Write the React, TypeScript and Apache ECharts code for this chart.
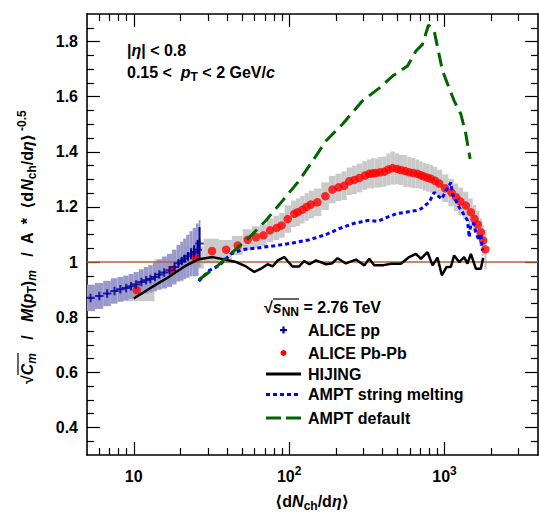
import React, { useEffect, useRef } from 'react';
import * as echarts from 'echarts';

const FONT = '"Liberation Sans", Arial, Helvetica, "DejaVu Sans", sans-serif';

// ---------------- data ----------------
const ppX = [5.27, 6.0, 6.74, 7.52, 8.2, 8.93, 9.6, 10.35, 11.2, 12.0, 12.8, 13.7, 14.6, 15.7, 17.0, 18.3, 19.4, 20.4, 21.2, 22.3, 23.4, 24.5, 25.8, 26.5];
const ppY = [0.870, 0.877, 0.886, 0.895, 0.901, 0.906, 0.912, 0.919, 0.928, 0.934, 0.939, 0.946, 0.955, 0.962, 0.970, 0.982, 0.996, 1.004, 1.012, 1.021, 1.030, 1.036, 1.045, 1.067];
const ppSys = [0.048, 0.047, 0.046, 0.046, 0.045, 0.045, 0.045, 0.045, 0.046, 0.048, 0.05, 0.052, 0.055, 0.058, 0.06, 0.063, 0.066, 0.07, 0.073, 0.078, 0.082, 0.088, 0.095, 0.085];
const ppStat = [0.003, 0.003, 0.003, 0.003, 0.003, 0.003, 0.003, 0.003, 0.003, 0.003, 0.003, 0.003, 0.004, 0.004, 0.005, 0.006, 0.008, 0.01, 0.012, 0.015, 0.02, 0.025, 0.035, 0.06];

const pbX = [10.45, 17.7, 24.9, 31.9, 39.3, 46.7, 54.1, 61.2, 68.3, 75.4, 83.2, 89.5, 97.9, 108, 113.6, 122, 129.6, 138, 152, 171, 190, 208, 226, 244, 263, 283, 308, 328, 345, 362, 385, 410, 435, 463, 495, 525, 560, 593, 630, 671, 705, 741, 780, 818, 870, 925, 1010, 1110, 1190, 1265, 1373, 1478, 1560, 1640, 1714, 1774, 1835];
const pbY = [0.898, 0.970, 1.016, 1.040, 1.045, 1.060, 1.081, 1.090, 1.097, 1.115, 1.124, 1.133, 1.156, 1.175, 1.181, 1.190, 1.200, 1.209, 1.217, 1.239, 1.263, 1.271, 1.277, 1.293, 1.298, 1.305, 1.314, 1.320, 1.322, 1.323, 1.326, 1.328, 1.336, 1.341, 1.338, 1.334, 1.330, 1.326, 1.323, 1.320, 1.315, 1.310, 1.306, 1.302, 1.295, 1.285, 1.268, 1.252, 1.235, 1.220, 1.205, 1.181, 1.157, 1.136, 1.108, 1.078, 1.046];
const pbSys = [0.04, 0.04, 0.04, 0.045, 0.035, 0.035, 0.038, 0.04, 0.04, 0.042, 0.044, 0.045, 0.05, 0.048, 0.05, 0.05, 0.05, 0.05, 0.05, 0.05, 0.05, 0.05, 0.052, 0.05, 0.052, 0.052, 0.052, 0.052, 0.055, 0.053, 0.055, 0.055, 0.058, 0.06, 0.056, 0.055, 0.058, 0.055, 0.055, 0.052, 0.05, 0.05, 0.05, 0.05, 0.05, 0.05, 0.05, 0.05, 0.05, 0.05, 0.05, 0.05, 0.05, 0.05, 0.05, 0.055, 0.07];

const hijingX = [10, 12.9, 16.6, 21.2, 25.8, 32.2, 38.3, 45.6, 52.8, 59.7, 65.9, 72.7, 78.3, 84.4, 93.2, 97.8, 105, 116, 125, 135, 149, 173, 190, 205, 232, 269, 305, 328, 353, 399, 452, 524, 593, 655, 705, 778, 838, 902, 962, 1030, 1099, 1154, 1244, 1339, 1406, 1479, 1592, 1714, 1774];
const hijingY = [0.868, 0.907, 0.944, 0.984, 1.009, 1.018, 1.009, 1.0, 0.984, 0.964, 0.976, 0.992, 0.984, 1.006, 1.018, 1.004, 0.984, 0.984, 1.004, 0.992, 1.006, 0.992, 0.996, 1.014, 0.995, 1.009, 0.988, 1.012, 0.988, 0.988, 0.994, 0.994, 1.018, 1.03, 1.012, 1.036, 0.988, 1.016, 0.952, 0.982, 0.982, 1.024, 1.0, 1.018, 0.994, 1.03, 0.976, 0.976, 1.016];

const amptSmX = [26.2, 27.8, 30.7, 35.6, 42.3, 50.2, 64.3, 82.4, 105, 135, 173, 210, 256, 320, 371, 487, 655, 705, 797, 859, 902, 962, 1021, 1099, 1125, 1183, 1244, 1306, 1406, 1443, 1479, 1553, 1592, 1671, 1714, 1755];
const amptSmY = [0.930, 0.946, 0.970, 0.988, 1.030, 1.045, 1.052, 1.060, 1.069, 1.081, 1.100, 1.121, 1.139, 1.151, 1.148, 1.175, 1.187, 1.193, 1.217, 1.253, 1.241, 1.229, 1.259, 1.289, 1.247, 1.223, 1.199, 1.181, 1.151, 1.090, 1.139, 1.139, 1.108, 1.078, 1.103, 1.042];

const amptDefX = [26.2, 33.9, 43.3, 55.5, 71.0, 90.8, 116, 142, 173, 221, 297, 380, 463, 578, 655, 722, 789, 859, 971, 1154, 1275, 1373, 1463];
const amptDefY = [0.936, 0.982, 1.036, 1.090, 1.151, 1.223, 1.295, 1.368, 1.440, 1.501, 1.585, 1.631, 1.675, 1.711, 1.766, 1.790, 1.860, 1.838, 1.694, 1.585, 1.537, 1.464, 1.374];

const refX = [5, 4000];
const refY = [1, 1];

const xMajorTicks = [10, 100, 1000];
const xMinorTicks = [6, 7, 8, 9, 20, 30, 40, 50, 60, 70, 80, 90, 200, 300, 400, 500, 600, 700, 800, 900, 2000, 3000];
const yMajorTicks = [0.4, 0.6, 0.8, 1.0, 1.2, 1.4, 1.6, 1.8];
const yMinorTicks = [0.35, 0.45, 0.5, 0.55, 0.65, 0.7, 0.75, 0.85, 0.9, 0.95, 1.05, 1.1, 1.15, 1.25, 1.3, 1.35, 1.45, 1.5, 1.55, 1.65, 1.7, 1.75, 1.85];

// ---------------- helpers ----------------
const pairs = (xs: number[], ys: number[]) => xs.map((x, i) => [x, ys[i]]);

function boxes(xs: number[], ys: number[], es: number[]) {
  const n = xs.length;
  return xs.map((x, i) => {
    const lo = i > 0 ? Math.sqrt(xs[i - 1] * x) : x / Math.sqrt(xs[1] / xs[0]);
    const hi = i < n - 1 ? Math.sqrt(xs[i + 1] * x) : x * Math.sqrt(xs[n - 1] / xs[n - 2]);
    return [x, ys[i], lo, hi, ys[i] - es[i], ys[i] + es[i]];
  });
}

const boxRender = (color: string) => (params: any, api: any) => {
  const a = api.coord([api.value(2), api.value(5)]);
  const b = api.coord([api.value(3), api.value(4)]);
  return {
    type: 'rect',
    shape: { x: a[0], y: a[1], width: b[0] - a[0], height: b[1] - a[1] },
    style: { fill: color },
  };
};

const B = { fontFamily: FONT, fontWeight: 'bold' as const, color: '#000' };
const rich = {
  b: { ...B, fontSize: 16, lineHeight: 22 },
  i: { ...B, fontSize: 16, lineHeight: 22, fontStyle: 'italic' as const },
  sub: { ...B, fontSize: 12, lineHeight: 12, verticalAlign: 'bottom' as const },
  subi: { ...B, fontSize: 12, lineHeight: 12, verticalAlign: 'bottom' as const, fontStyle: 'italic' as const },
  sup: { ...B, fontSize: 12, lineHeight: 12, verticalAlign: 'top' as const, padding: [0, 0, 0, 3] },
};

const frameLine = { show: true, onZero: false, lineStyle: { color: '#000', width: 1.6 } };

function xAxisDef(position: 'bottom' | 'top', major: boolean) {
  return {
    type: 'log',
    logBase: 10,
    min: 5,
    max: 4000,
    position,
    axisLine: major ? frameLine : { show: false },
    axisTick: {
      show: true,
      inside: true,
      length: major ? 13 : 7,
      customValues: major ? xMajorTicks : xMinorTicks,
      lineStyle: { color: '#000', width: 1.2 },
    },
    minorTick: { show: false },
    splitLine: { show: false },
    axisLabel: major && position === 'bottom'
      ? {
          show: true,
          customValues: xMajorTicks,
          margin: 10,
          formatter: (v: number) => {
            const e = Math.round(Math.log10(v));
            return e === 1 ? '{b|10}' : '{b|10}{sup|' + e + '}';
          },
          rich: { ...rich, sup: { ...rich.sup, padding: [0, 0, 0, 0] } },
        }
      : { show: false },
  };
}

function yAxisDef(position: 'left' | 'right', major: boolean) {
  return {
    type: 'value',
    min: 0.3,
    max: 1.9,
    position,
    axisLine: major ? frameLine : { show: false },
    axisTick: {
      show: true,
      inside: true,
      length: major ? 13 : 7,
      customValues: major ? yMajorTicks : yMinorTicks,
      lineStyle: { color: '#000', width: 1.2 },
    },
    splitLine: { show: false },
    axisLabel: major && position === 'left'
      ? {
          show: true,
          customValues: yMajorTicks,
          margin: 9,
          formatter: (v: number) => (Math.abs(v - 1) < 1e-6 ? '1' : v.toFixed(1)),
          fontFamily: FONT,
          fontWeight: 'bold',
          fontSize: 16,
          color: '#000',
        }
      : { show: false },
  };
}

const legendText = (y: number, text: string) => ({
  type: 'text',
  x: 308,
  y,
  style: { text, fontFamily: FONT, fontWeight: 'bold', fontSize: 16, fill: '#000', verticalAlign: 'middle', align: 'left' },
});

export default function App() {
  const ref = useRef<HTMLDivElement>(null);

  useEffect(() => {
    if (!ref.current) return;
    const chart = echarts.init(ref.current, undefined, { renderer: 'svg' });

    const option: any = {
      animation: false,
      backgroundColor: '#fff',
      grid: { left: 87, top: 14, width: 451, height: 441, containLabel: false },
      xAxis: [xAxisDef('bottom', true), xAxisDef('bottom', false), xAxisDef('top', true), xAxisDef('top', false)],
      yAxis: [yAxisDef('left', true), yAxisDef('left', false), yAxisDef('right', true), yAxisDef('right', false)],
      series: [
        {
          name: 'ALICE Pb-Pb sys',
          type: 'custom',
          clip: true,
          renderItem: boxRender('#cacaca'),
          data: boxes(pbX, pbY, pbSys),
          encode: { x: 0, y: 1 },
          z: 1,
        },
        {
          name: 'ALICE pp sys',
          type: 'custom',
          clip: true,
          renderItem: boxRender('#9999cc'),
          data: boxes(ppX, ppY, ppSys),
          encode: { x: 0, y: 1 },
          z: 2,
        },
        {
          name: 'ref',
          type: 'line',
          data: pairs(refX, refY),
          showSymbol: false,
          lineStyle: { color: '#c0602a', width: 1.5 },
          z: 3,
        },
        {
          name: 'ALICE pp stat',
          type: 'custom',
          clip: true,
          renderItem: (params: any, api: any) => {
            const a = api.coord([api.value(0), api.value(1)]);
            const b = api.coord([api.value(0), api.value(2)]);
            return { type: 'line', shape: { x1: a[0], y1: a[1], x2: b[0], y2: b[1] }, style: { stroke: '#000099', lineWidth: 2 } };
          },
          data: ppX.map((x, i) => [x, ppY[i] - ppStat[i], ppY[i] + ppStat[i]]),
          encode: { x: 0, y: [1, 2] },
          z: 4,
        },
        {
          name: 'ALICE Pb-Pb',
          type: 'scatter',
          data: pairs(pbX, pbY),
          symbol: 'circle',
          symbolSize: 8.5,
          itemStyle: { color: '#ff0000' },
          z: 5,
        },
        {
          name: 'ALICE pp',
          type: 'scatter',
          data: pairs(ppX, ppY),
          symbol: 'path://M3.8,0H6.2V3.8H10V6.2H6.2V10H3.8V6.2H0V3.8H3.8Z',
          symbolSize: 8.5,
          itemStyle: { color: '#000099' },
          z: 6,
        },
        {
          name: 'HIJING',
          type: 'line',
          data: pairs(hijingX, hijingY),
          showSymbol: false,
          lineStyle: { color: '#000', width: 2.5 },
          z: 7,
        },
        {
          name: 'AMPT string melting',
          type: 'line',
          data: pairs(amptSmX, amptSmY),
          showSymbol: false,
          lineStyle: { color: '#0000ff', width: 3, type: [4, 3] },
          z: 8,
        },
        {
          name: 'AMPT default',
          type: 'line',
          data: pairs(amptDefX, amptDefY),
          showSymbol: false,
          lineStyle: { color: '#006400', width: 3, type: [14, 7] },
          z: 9,
        },
      ],
      graphic: [
        // top-left annotations
        {
          type: 'text',
          x: 127,
          y: 50,
          style: { text: '{b||}{i|η}{b|| < 0.8}', rich, verticalAlign: 'middle', align: 'left' },
        },
        {
          type: 'text',
          x: 127,
          y: 72,
          style: { text: '{b|0.15 <  }{i|p}{sub|T}{b| < 2 GeV/}{i|c}', rich, verticalAlign: 'middle', align: 'left' },
        },
        // legend header
        {
          type: 'text',
          x: 264,
          y: 307,
          style: { text: '{b|√}{i|s}{sub|NN}{b| = 2.76 TeV}', rich, verticalAlign: 'middle', align: 'left' },
        },
        { type: 'line', shape: { x1: 273, y1: 299, x2: 299, y2: 299 }, style: { stroke: '#000', lineWidth: 1.2 } },
        // legend entries
        { type: 'rect', shape: { x: 280, y: 329, width: 7, height: 2.2 }, style: { fill: '#000099' } },
        { type: 'rect', shape: { x: 282.4, y: 326.5, width: 2.2, height: 7 }, style: { fill: '#000099' } },
        legendText(330, 'ALICE pp'),
        { type: 'circle', shape: { cx: 283.5, cy: 353, r: 3 }, style: { fill: '#ff0000' } },
        legendText(353, 'ALICE Pb-Pb'),
        { type: 'line', shape: { x1: 266, y1: 374, x2: 301, y2: 374 }, style: { stroke: '#000', lineWidth: 3 } },
        legendText(374, 'HIJING'),
        { type: 'line', shape: { x1: 266, y1: 394.5, x2: 301, y2: 394.5 }, style: { stroke: '#0000ff', lineWidth: 3, lineDash: [4, 3] } },
        legendText(394.5, 'AMPT string melting'),
        { type: 'line', shape: { x1: 266, y1: 418, x2: 301, y2: 418 }, style: { stroke: '#006400', lineWidth: 3, lineDash: [15, 5] } },
        legendText(418, 'AMPT default'),
        // x axis title
        {
          type: 'text',
          x: 312,
          y: 501,
          style: { text: '{b|⟨d}{i|N}{sub|ch}{b|/d}{i|η}{b|⟩}', rich, verticalAlign: 'middle', align: 'center' },
        },
        // y axis title (rotated)
        {
          type: 'group',
          x: 27,
          y: 384,
          rotation: Math.PI / 2,
          children: [
            {
              type: 'text',
              x: 0,
              y: 0,
              style: {
                text: '{b|√}{i|C}{subi|m}{b|   /   }{i|M}{b|(}{i|p}{sub|T}{b|)}{subi|m}{b|   /  A  *  ⟨d}{i|N}{sub|ch}{b|/d}{i|η}{b|⟩}{sup|-0.5}',
                rich,
                verticalAlign: 'middle',
                align: 'left',
              },
            },
            { type: 'line', shape: { x1: 9, y1: -9, x2: 31, y2: -9 }, style: { stroke: '#000', lineWidth: 1.2 } },
          ],
        },
      ],
    };

    chart.setOption(option);
    return () => chart.dispose();
  }, []);

  return <div ref={ref} style={{ position: 'absolute', left: 0, top: 0, width: 539, height: 512 }} />;
}
